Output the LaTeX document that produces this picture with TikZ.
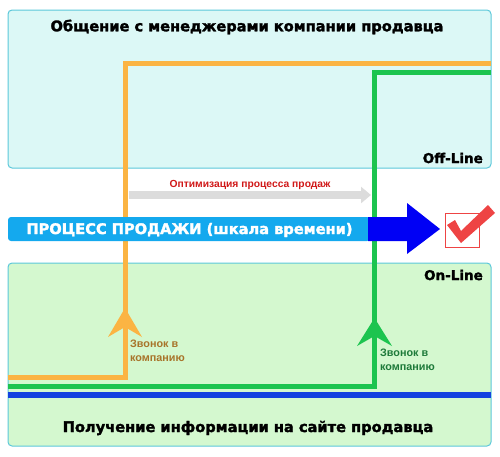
\documentclass[tikz,border=0pt]{standalone}
\usepackage{fontspec}
\setmainfont{Liberation Sans}
\newfontfamily\heavy[BoldFeatures={FakeBold=2}]{DejaVu Sans}
\usetikzlibrary{arrows.meta}
\definecolor{topfill}{HTML}{DCF8F6}
\definecolor{botfill}{HTML}{D4F8CF}
\definecolor{boxline}{HTML}{5CC8DA}
\definecolor{orng}{HTML}{FBB443}
\definecolor{grn}{HTML}{1CC44F}
\definecolor{blueline}{HTML}{1442E0}
\definecolor{cyanbar}{HTML}{14A9EE}
\definecolor{darkblue}{HTML}{0000F5}
\definecolor{chkred}{HTML}{EE4444}
\definecolor{otext}{HTML}{A8742A}
\definecolor{gtext}{HTML}{1E7A3A}
\definecolor{redtext}{HTML}{D01818}
\definecolor{greyarr}{HTML}{DCDCDC}
\tikzset{
  panel/.style={draw=boxline, line width=1pt, rounded corners=4pt},
  heading/.style={font=\heavy\bfseries\fontsize{14.6}{16}\selectfont, text=black, inner sep=0pt},
  zonelabel/.style={font=\heavy\bfseries\fontsize{13.5}{15}\selectfont, text=black, inner sep=0pt},
  calllabel/.style={font=\bfseries\fontsize{10.8}{13.5}\selectfont, align=left, anchor=west, inner sep=0pt},
  pathline/.style={line width=5pt, line cap=butt, line join=miter},
}
\begin{document}
\begin{tikzpicture}[x=1pt,y=-1pt]
\useasboundingbox (0,0) rectangle (500,456);
% panels
\draw[panel, fill=topfill] (8,10) rectangle (491,168);
\draw[panel, fill=botfill] (8,263) rectangle (491,446);
\node[heading] (toptitle) at (247,27) {Общение с менеджерами компании продавца};
\node[heading] (bottitle) at (248,428) {Получение информации на сайте продавца};
\node[zonelabel, anchor=east] (offline) at (483,158) {Off-Line};
\node[zonelabel, anchor=east] (online) at (483,275) {On-Line};
% paths
\coordinate (oA) at (491,63);
\coordinate (oB) at (125,63);
\coordinate (oC) at (125,377);
\coordinate (oD) at (8,377);
\draw[pathline, orng] (oA) -- (oB) -- (oC) -- (oD);
\coordinate (gA) at (491,72);
\coordinate (gB) at (374.5,72);
\coordinate (gC) at (374.5,386);
\coordinate (gD) at (8,386);
\draw[pathline, grn] (gA) -- (gB) -- (gC) -- (gD);
\coordinate (bA) at (8,395);
\coordinate (bB) at (491,395);
\draw[line width=6pt, blueline] (bA) -- (bB);
% call arrows
\fill[orng] (125,308) -- (142,337) -- (125,327) -- (108,337) -- cycle;
\fill[grn] (374.5,318) -- (392,346) -- (374.5,336) -- (357,346) -- cycle;
\node[calllabel, text=otext] (ocall) at (130,351) {Звонок в\\компанию};
\node[calllabel, text=gtext] (gcall) at (380,360) {Звонок в\\компанию};
% optimisation arrow
\coordinate (optS) at (129,195);
\coordinate (optE) at (371,195);
\draw[line width=8pt, greyarr, -{Triangle[length=10pt,width=16pt]}] (optS) -- (optE);
\node[font=\bfseries\fontsize{10.3}{12}\selectfont, text=redtext, inner sep=0pt] (opt) at (250,185) {Оптимизация процесса продаж};
% process arrow
\fill[cyanbar, rounded corners=3pt] (8,217) -- (370,217) -- (370,241) -- (8,241) -- cycle;
\fill[darkblue] (368,217) -- (407,217) -- (407,203) -- (440,229) -- (407,254) -- (407,241) -- (368,241) -- cycle;
\node[font=\heavy\bfseries\fontsize{14.6}{16}\selectfont, text=white, inner sep=0pt] (proc) at (189.5,230) {ПРОЦЕСС ПРОДАЖИ (шкала времени)};
% checkbox
\draw[chkred, line width=0.8pt, fill=white] (445,213) rectangle (479,247);
\fill[chkred] (447,225) -- (455,220) -- (461,231) -- (488,205) -- (495,213) -- (461,243) -- cycle;
\end{tikzpicture}
\end{document}
